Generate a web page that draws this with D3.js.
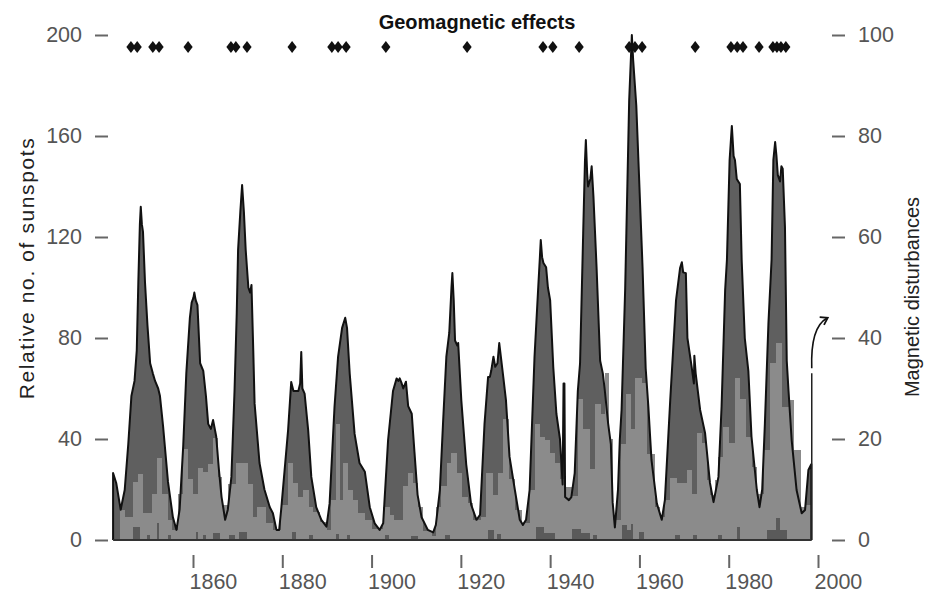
<!DOCTYPE html>
<html>
<head>
<meta charset="utf-8">
<title>Sunspots and geomagnetic disturbances</title>
<script src="https://d3js.org/d3.v7.min.js"></script>
<style>
    body { margin: 0; background: #fff; }
    svg { display: block; font-family: "Liberation Sans", Arial, sans-serif; }
    .tick line { stroke: #666; stroke-width: 2; }
    .tick text { fill: #555; font-size: 21.5px; }
</style>
</head>
<body>
<svg id="chart" width="933" height="596"></svg>
<script>
// smoothed relative sunspot number
var sunYears = [1842.1, 1842.8, 1843.8, 1844.7, 1845.5, 1846.2, 1846.9, 1847.4, 1847.75, 1848.1, 1848.3, 1848.55, 1848.8, 1849.25, 1849.8,
    1850.4, 1851.0, 1851.5, 1852.2, 1852.6, 1853.3, 1854.4, 1855.5, 1856.3, 1857.0, 1857.8, 1858.5, 1859.3, 1859.7, 1860.1,
    1860.3, 1860.6, 1861.0, 1861.6, 1862.3, 1862.9, 1863.4, 1864.0, 1864.5, 1865.2, 1865.8, 1866.4, 1867.2, 1867.8, 1868.6,
    1869.3, 1869.8, 1870.1, 1870.6, 1871.0, 1871.4, 1871.8, 1872.4, 1872.8, 1873.1, 1873.5, 1873.8, 1874.9, 1876.0, 1877.2,
    1877.9, 1878.7, 1879.3, 1879.8, 1881.3, 1882.0, 1882.5, 1883.6, 1884.0, 1884.25, 1884.5, 1885.0, 1885.8, 1886.5, 1887.6,
    1888.75, 1889.9, 1890.6, 1891.7, 1892.5, 1893.4, 1894.1, 1894.5, 1895.1, 1896.2, 1897.3, 1898.5, 1899.6, 1900.7, 1901.8,
    1902.6, 1903.7, 1904.8, 1905.6, 1906.0, 1906.3, 1906.75, 1907.1, 1907.7, 1908.2, 1909.0, 1909.6, 1910.3, 1911.2, 1912.6,
    1913.8, 1914.4, 1915.3, 1916.0, 1916.75, 1917.4, 1917.9, 1918.1, 1918.4, 1918.7, 1919.2, 1919.4, 1920.1, 1921.2, 1922.3,
    1923.5, 1924.3, 1925.3, 1926.1, 1926.5, 1926.8, 1927.3, 1927.7, 1928.2, 1928.6, 1929.0, 1929.5, 1930.1, 1930.9, 1932.1,
    1933.2, 1933.9, 1934.6, 1935.4, 1936.5, 1937.3, 1937.7, 1937.9, 1938.2, 1938.5, 1939.1, 1939.5, 1940.0, 1940.7, 1941.4,
    1942.2, 1942.8, 1943.0, 1943.2, 1943.35, 1944.2, 1944.75, 1945.5, 1946.2, 1946.7, 1947.4, 1947.8, 1948.0, 1948.3, 1948.5,
    1949.0, 1949.3, 1949.7, 1950.4, 1951.2, 1951.8, 1952.2, 1953.0, 1953.6, 1954.0, 1954.5, 1955.2, 1955.6, 1956.0, 1956.8,
    1957.7, 1958.3, 1958.6, 1959.3, 1960.7, 1961.4, 1962.0, 1962.7, 1963.9, 1965.0, 1965.7, 1966.9, 1968.2, 1969.1, 1969.5,
    1969.8, 1970.4, 1970.75, 1971.7, 1972.2, 1972.3, 1972.6, 1973.6, 1974.7, 1975.8, 1976.6, 1977.7, 1978.4, 1979.2, 1979.6,
    1980.2, 1980.7, 1981.1, 1981.4, 1981.8, 1982.5, 1982.9, 1983.6, 1984.4, 1985.1, 1986.3, 1986.9, 1987.5, 1988.1, 1988.9,
    1989.6, 1990.0, 1990.4, 1990.7, 1991.0, 1991.5, 1991.8, 1992.1, 1992.6, 1993.0, 1993.4, 1994.1, 1995.2, 1996.35, 1997.1,
    1997.85, 1998.5];
var sunSpots = [26.5, 22.6, 12, 19.8, 38, 57, 63, 75, 102, 125, 132, 125, 122, 102, 85,
    70, 66, 63, 60, 57, 45, 23, 9, 4, 12, 37, 66, 88, 94, 96,
    98, 95, 93, 70, 67, 57, 46, 44, 47.5, 41, 28, 17, 8, 12, 25,
    59, 90, 115, 130, 140.6, 130, 115, 100, 98, 101, 75, 54, 30.5, 20, 13,
    10.6, 4, 4, 13, 43.5, 62.6, 59, 59, 62, 74.5, 60, 58, 43.5, 25, 13,
    8, 5.3, 14.5, 52.8, 72.6, 84, 88, 84, 66, 42, 30.5, 27, 13, 6.6, 4,
    6.6, 39.6, 59, 64, 63, 64, 62, 60, 62.7, 53, 50, 35, 18, 9, 4,
    3, 6, 19.8, 46, 72.6, 82, 100, 105.7, 95, 79, 77, 78, 55.4, 30, 14,
    8, 10, 46, 64.6, 64.6, 67, 72.6, 68.6, 70, 78, 72, 64.6, 55.4, 33, 19.8,
    8, 6, 8, 19.8, 72.6, 99, 112, 118.8, 112, 109.7, 108, 100, 95, 68.5, 50,
    40, 22, 62, 62, 17, 15.8, 17, 26.5, 59, 70, 121.5, 150, 158.4, 145, 140,
    143, 148, 136, 108, 71, 66, 60, 46, 38, 15, 5, 20, 39.6, 51.5, 99,
    174, 200, 190, 172, 108, 68, 52.8, 31.7, 14.5, 8, 15.8, 55.4, 95, 107.7, 110,
    106, 105.7, 80, 68.6, 62, 73, 66, 51.5, 42.4, 22.6, 15, 25, 52.8, 99, 111,
    150.5, 164, 152, 150.5, 143, 141, 111, 80, 67, 41, 19.8, 13, 20, 46, 86,
    111, 150.5, 157.6, 152, 144.5, 142, 148, 147, 124, 71, 59, 39.6, 19.8, 10.6, 11.9,
    27.7, 30];

// magnetic disturbances (right scale), stepped bars: start year and height
var magStart = [1843.6, 1844.7, 1846.5, 1847.7, 1848.8, 1850.8, 1851.9, 1853.0, 1854.2, 1855.3, 1856.6, 1857.8, 1858.9, 1860.0,
    1861.1, 1862.2, 1863.4, 1864.5, 1865.6, 1866.3, 1867.8, 1869.6, 1872.2, 1873.3, 1874.4, 1876.3, 1877.8, 1879.6, 1881.3,
    1882.4, 1883.5, 1884.6, 1885.8, 1886.9, 1888.4, 1889.9, 1891.0, 1892.1, 1892.9, 1893.6, 1894.7, 1895.8, 1896.9, 1898.5,
    1900.0, 1901.4, 1902.6, 1904.0, 1905.0, 1907.1, 1908.2, 1909.3, 1910.4, 1911.5, 1913.4, 1914.5, 1915.6, 1916.8, 1917.9,
    1919.0, 1920.1, 1921.6, 1922.7, 1924.5, 1925.6, 1927.2, 1928.3, 1929.4, 1930.6, 1932.1, 1933.5, 1935.5, 1936.6, 1937.7,
    1938.8, 1939.9, 1941.1, 1942.2, 1943.3, 1944.7, 1946.2, 1947.3, 1948.9, 1950.0, 1951.2, 1952.3, 1953.0, 1954.0, 1955.9,
    1957.0, 1958.1, 1959.0, 1960.4, 1961.5, 1963.5, 1964.6, 1965.7, 1966.9, 1968.3, 1970.6, 1971.7, 1972.8, 1973.9, 1975.1,
    1975.8, 1976.9, 1977.7, 1978.8, 1979.9, 1981.4, 1982.5, 1983.7, 1985.2, 1986.3, 1987.8, 1989.3, 1990.7, 1991.9, 1993.4,
    1994.5, 1996.0, 1997.1];
var magValue = [6, 4.5, 11.5, 13, 5.3, 9.2, 16.2, 9.2, 4, 2, 9.2, 18, 12, 9.2,
    14.2, 13.5, 15, 20.2, 12.5, 6.9, 11, 15.2, 11, 4.5, 6.6, 3.3, 2, 7, 15.2,
    11.2, 8.6, 9.9, 6.6, 5.5, 3.5, 2, 7.9, 23, 7.9, 15.2, 10, 7.9, 5.3, 4,
    2.2, 2.2, 6.5, 5, 4, 10.6, 13.2, 11.2, 6.6, 1.8, 0.8, 6.6, 10.6, 15.2, 17.2,
    13.2, 8.6, 7.3, 4, 4.6, 13.2, 8.9, 13.2, 24, 12, 6, 3.4, 9.9, 23, 20.4,
    19.8, 17.2, 15.2, 12, 10.5, 8.7, 28, 22, 14, 27, 25, 33, 20, 4, 19,
    29, 22, 32, 31, 17, 6.6, 4.6, 7.9, 12.2, 11.2, 13.9, 9.2, 21.1, 19.2, 11.9,
    8.9, 11.9, 16.5, 22.4, 19.2, 32, 28, 20.4, 14.5, 9.2, 17.8, 35, 39, 26.4, 27.7,
    17.8, 6.6, 7];
var magEnd = 1998.6;

// severe storms, small dark bars along the base (right scale)
var stormStart = [1846.5, 1849.8, 1851.9, 1854.4, 1860.6, 1862.2, 1864.5, 1868.0, 1870.4, 1882.2, 1886.0, 1892.0, 1894.5, 1903.0,
    1908.8, 1916.5, 1926.0, 1928.0, 1936.8, 1938.6, 1945.0, 1947.0, 1949.5, 1956.0, 1957.3, 1958.0, 1960.0, 1968.0, 1972.0,
    1977.5, 1981.9, 1988.6, 1990.7, 1991.5];
var stormEnd = [1848.2, 1850.4, 1852.4, 1855.0, 1861.2, 1863.0, 1866.0, 1869.5, 1872.0, 1883.0, 1886.8, 1892.8, 1895.2, 1904.0,
    1910.3, 1917.5, 1927.5, 1929.0, 1938.6, 1941.0, 1947.0, 1949.0, 1950.5, 1957.3, 1958.0, 1958.6, 1961.0, 1969.0, 1973.0,
    1978.5, 1982.6, 1990.7, 1991.5, 1993.0];
var stormValue = [2.6, 1, 3.3, 1, 1.5, 1, 1.3, 1, 1.5, 1.5, 1, 1.2, 1, 1,
    0.8, 1, 2, 1.2, 2.5, 1.3, 2.2, 1.3, 1, 3, 2, 3.2, 1.5, 1, 1,
    1, 2.6, 2, 4.4, 2];

// years with geomagnetic effects (diamonds)
var effectYears = [1846.1, 1847.5, 1851.0, 1852.4, 1858.9, 1868.5, 1869.6, 1872.1, 1882.2, 1891.1, 1892.5, 1894.3, 1903.2,
    1921.4, 1938.4, 1940.6, 1946.5, 1957.7, 1959.0, 1960.6, 1972.5, 1980.5, 1981.9, 1983.2, 1986.8, 1989.9, 1990.8, 1991.7, 1992.8];

var yearTicks = [1860, 1880, 1900, 1920, 1940, 1960, 1980, 2000];
var sunTicks = [0, 40, 80, 120, 160, 200];
var magTicks = [0, 20, 40, 60, 80, 100];

var svg = d3.select("#chart");

var x = d3.scaleLinear().domain([1860, 2000]).range([193, 818]);
var yL = d3.scaleLinear().domain([0, 200]).range([540, 35]);
var yR = d3.scaleLinear().domain([0, 100]).range([540, 35]);

var sun = sunYears.map(function (yr, i) { return [yr, sunSpots[i]]; });
var first = sunYears[0], last = sunYears[sunYears.length - 1];
var sunClosed = [[first, 0]].concat(sun, [[last, 0]]);

// dark sunspot area
svg.append("path")
    .datum(sunClosed)
    .attr("fill", "#5f5f5f")
    .attr("d", d3.area().x(function (d) { return x(d[0]); }).y0(yL(0)).y1(function (d) { return yL(d[1]); }));

// magnetic disturbance bars
var mag = magStart.map(function (s, i) {
    return { s: s, e: i < magStart.length - 1 ? magStart[i + 1] : magEnd, v: magValue[i] };
});
svg.append("g").attr("shape-rendering", "crispEdges")
    .selectAll("rect").data(mag).enter().append("rect")
    .attr("x", function (d) { return x(d.s); })
    .attr("width", function (d) { return x(d.e) - x(d.s) + 0.4; })
    .attr("y", function (d) { return yR(d.v); })
    .attr("height", function (d) { return yR(0) - yR(d.v); })
    .attr("fill", "#8b8b8b");

var storms = stormStart.map(function (s, i) { return { s: s, e: stormEnd[i], v: stormValue[i] }; });
svg.append("g").attr("shape-rendering", "crispEdges")
    .selectAll("rect").data(storms).enter().append("rect")
    .attr("x", function (d) { return x(d.s); })
    .attr("width", function (d) { return x(d.e) - x(d.s); })
    .attr("y", function (d) { return yR(d.v); })
    .attr("height", function (d) { return yR(0) - yR(d.v); })
    .attr("fill", "#5a5a5a");

// outline of the sunspot curve
svg.append("path")
    .datum(sunClosed)
    .attr("fill", "none")
    .attr("stroke", "#111")
    .attr("stroke-width", 2)
    .attr("stroke-linejoin", "round")
    .attr("d", d3.line().x(function (d) { return x(d[0]); }).y(function (d) { return yL(d[1]); }));

// base line
svg.append("line")
    .attr("x1", x(first)).attr("x2", x(magEnd))
    .attr("y1", yL(0)).attr("y2", yL(0))
    .attr("stroke", "#333").attr("stroke-width", 2);

// end marker and arrow to the right scale
svg.append("line")
    .attr("x1", x(magEnd)).attr("x2", x(magEnd))
    .attr("y1", yR(0)).attr("y2", yR(33))
    .attr("stroke", "#222").attr("stroke-width", 1.5);

svg.append("defs").append("marker")
    .attr("id", "head").attr("viewBox", "0 0 10 10").attr("refX", 6).attr("refY", 5)
    .attr("markerWidth", 7).attr("markerHeight", 7).attr("orient", "auto")
    .append("path").attr("d", "M1,1 L7,5 L1,9").attr("fill", "none").attr("stroke", "#111").attr("stroke-width", 1.6);

var ax = x(magEnd), ay = yR(34);
svg.append("path")
    .attr("d", "M" + ax + "," + ay + " C" + (ax - 1) + "," + (ay - 30) + " " + (ax + 6) + "," + (ay - 45) + " " + (ax + 15) + "," + (ay - 50))
    .attr("fill", "none").attr("stroke", "#111").attr("stroke-width", 1.6)
    .attr("marker-end", "url(#head)");

// geomagnetic effects
svg.append("text")
    .attr("x", 477).attr("y", 29)
    .attr("text-anchor", "middle")
    .attr("font-size", 20).attr("font-weight", "bold").attr("fill", "#111")
    .text("Geomagnetic effects");

svg.append("g").selectAll("path").data(effectYears).enter().append("path")
    .attr("transform", function (d) { return "translate(" + x(d) + ",47)"; })
    .attr("d", "M0,-6L4.6,0L0,6L-4.6,0Z")
    .attr("fill", "#111");

// axes
var bottom = svg.append("g").attr("transform", "translate(0,555)")
    .call(d3.axisBottom(x).tickValues(yearTicks).tickSize(13).tickPadding(6).tickFormat(d3.format("d")));
bottom.select(".domain").remove();
bottom.selectAll(".tick text").attr("text-anchor", "start").attr("dx", -4);

var left = svg.append("g").attr("transform", "translate(108,0)")
    .call(d3.axisLeft(yL).tickValues(sunTicks).tickSize(13).tickPadding(13));
left.select(".domain").remove();

var right = svg.append("g").attr("transform", "translate(832,0)")
    .call(d3.axisRight(yR).tickValues(magTicks).tickSize(13).tickPadding(13));
right.select(".domain").remove();

svg.append("text")
    .attr("transform", "translate(34,268) rotate(-90)")
    .attr("text-anchor", "middle").attr("font-size", 21).attr("letter-spacing", 1.6).attr("fill", "#222")
    .text("Relative no. of sunspots");

svg.append("text")
    .attr("transform", "translate(919,297) rotate(-90)")
    .attr("text-anchor", "middle").attr("font-size", 20).attr("fill", "#222")
    .text("Magnetic disturbances");
</script>
</body>
</html>
